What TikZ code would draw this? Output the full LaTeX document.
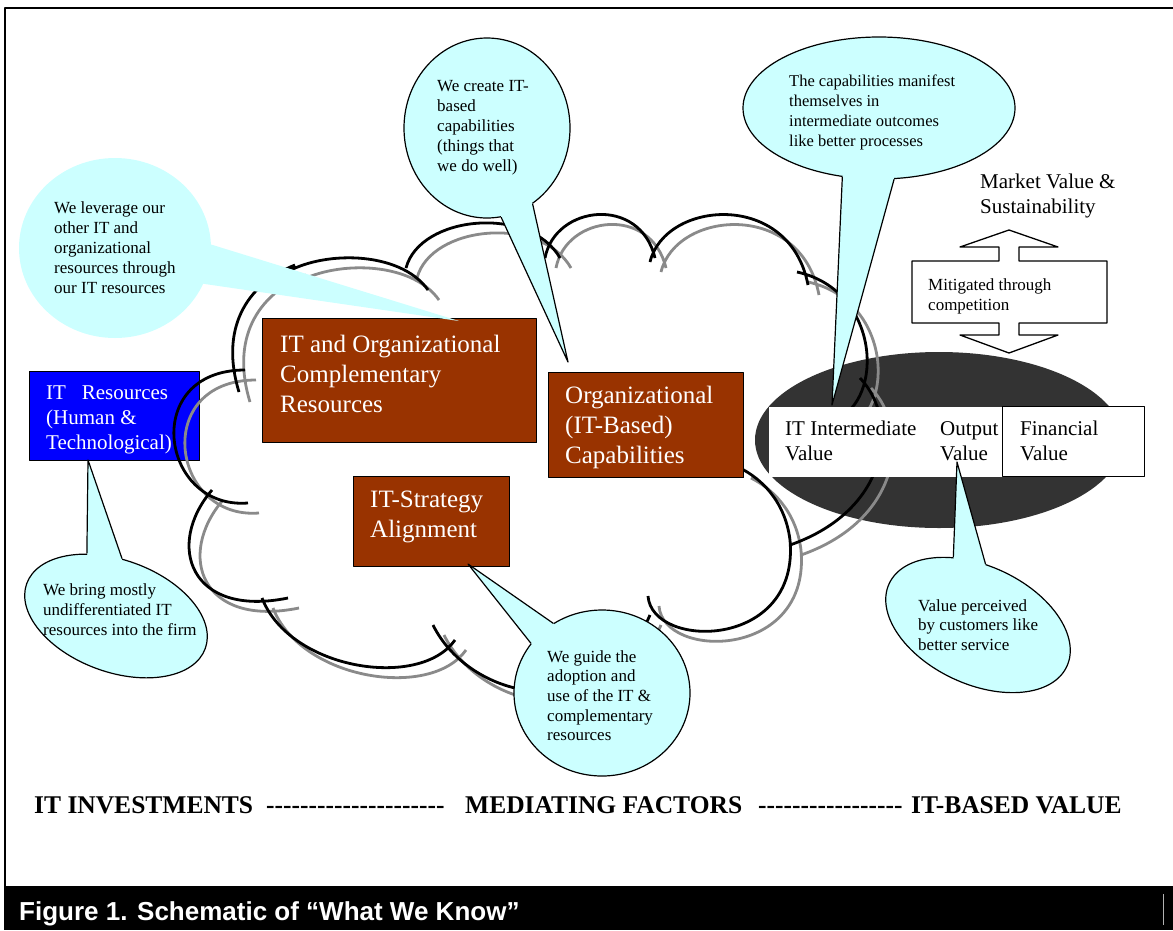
\documentclass[tikz,border=0pt]{standalone}
\usepackage{fontspec}
\setmainfont{Liberation Serif}
\newfontfamily\capfont{Liberation Sans}
\usetikzlibrary{shapes.geometric}
\definecolor{cBrown}{HTML}{993300}
\definecolor{cBlue}{HTML}{0000FF}
\definecolor{cCyan}{HTML}{CCFFFF}
\definecolor{cEll}{HTML}{333333}
\definecolor{cShadow}{HTML}{8A8A8A}
\newcommand\hy{\mbox{-}}
\newcommand\hyrun[1]{\foreach \k in {1,...,#1}{\hy}}
\begin{document}
\begin{tikzpicture}[x=1pt,y=-1pt,line join=round,
  frameln/.style={line width=2.4pt,black},
  cloudline/.style={line width=2.8pt},
  bluebox/.style={draw=black,line width=1pt,fill=cBlue,inner sep=0pt,anchor=north west},
  brownbox/.style={draw=black,line width=1.3pt,fill=cBrown,inner sep=0pt,anchor=north west},
  wbox/.style={fill=white,inner sep=0pt,anchor=north west},
  finbox/.style={draw=black,line width=1.3pt,fill=white,inner sep=0pt,anchor=north west},
  bigtxt/.style={anchor=north west,inner sep=0pt,align=left,text=white,font=\fontsize{25}{30}\selectfont},
  midtxt/.style={anchor=north west,inner sep=0pt,align=left,font=\fontsize{21}{25}\selectfont},
  smalltxt/.style={anchor=north west,inner sep=0pt,align=left,font=\fontsize{17}{20}\selectfont},
  bubble/.style={ellipse,fill=cCyan,draw=black,line width=1.2pt,inner sep=0pt},
  ptr/.style={draw=black,line width=1.2pt},
  axislbl/.style={anchor=base west,inner sep=0pt,font=\fontsize{25.5}{30}\selectfont\bfseries},
  cloudp/.style={insert path={
    (248,503) .. controls (160,510) and (140,370) .. (245,370)
    (239,392) .. controls (220,330) and (245,285) .. (295,265)
    (282,275) .. controls (320,250) and (400,250) .. (428,290)
    (406,268) .. controls (420,215) and (530,205) .. (560,258)
    (545,258) .. controls (555,205) and (640,195) .. (655,258)
    (650,262) .. controls (665,200) and (790,190) .. (808,285)
    (797,272) .. controls (880,290) and (885,400) .. (835,420)
    (860,378) .. controls (900,420) and (890,510) .. (790,545)
    (648,596) .. controls (652,650) and (800,650) .. (790,540)
              .. controls (785,500) and (760,478) .. (740,468)
    (433,625) .. controls (470,700) and (600,730) .. (650,615)
    (262,598) .. controls (290,670) and (420,690) .. (455,640)
    (212,490) .. controls (165,545) and (190,618) .. (288,598)
  }}]
\useasboundingbox (0,0) rectangle (1173,930);
% frame and caption bar
\draw[frameln] (5,887) -- (5,8) -- (1173,8);
\fill[black] (4,886) rectangle (1173,930);
\draw[gray!60,line width=0.8pt] (1163,894) -- (1163,925);
\node[anchor=base west,inner sep=0pt,text=white,font=\capfont\bfseries\fontsize{26}{30}\selectfont] (cap) at (19,920) {Figure 1. Schematic of “What We Know”};

% IT resources box
\node[bluebox,minimum width=170pt,minimum height=89pt] (blue) at (29,371) {};
\node[midtxt,text=white] (bluet) at (46,386) {IT\ \ \ Resources\\(Human \&\\Technological)};

% dark ellipse
\node[ellipse,fill=cEll,minimum width=368pt,minimum height=176pt,inner sep=0pt] (ell) at (939,440) {};

% cloud
\begin{scope}[shift={(11,10)}]
\draw[cloudline,cShadow] [cloudp];
\end{scope}
\draw[cloudline,black] [cloudp];

% brown boxes
\node[brownbox,minimum width=274pt,minimum height=124pt] (box1) at (262,318) {};
\node[bigtxt] (box1t) at (280,335) {IT and Organizational\\Complementary\\Resources};
\node[brownbox,minimum width=195pt,minimum height=105pt] (box2) at (548,372) {};
\node[bigtxt] (box2t) at (565,386) {Organizational\\(IT-Based)\\Capabilities};
\node[brownbox,minimum width=156pt,minimum height=90pt] (box3) at (353,476) {};
\node[bigtxt] (box3t) at (370,491) {IT-Strategy\\Alignment};

% value boxes
\node[wbox,minimum width=259pt,minimum height=70pt] (ivbox) at (769,407) {};
\node[finbox,minimum width=142pt,minimum height=70pt] (fin) at (1002,406) {};
\node[midtxt] (ivt) at (785,421) {IT Intermediate\\Value};
\node[midtxt] (outt) at (940,421) {Output\\Value};
\node[midtxt] (fint) at (1020,421) {Financial\\Value};

% market value and double arrow
\node[midtxt] (mkt) at (980,174) {Market Value \&\\Sustainability};
\draw[line width=1.3pt,fill=white] (1009,230) -- (1058,247) -- (1019,247) -- (1019,261) -- (1107,261) -- (1107,323) -- (1019,323) -- (1019,335) -- (1058,335) -- (1009,353) -- (960,335) -- (999,335) -- (999,323) -- (912,323) -- (912,261) -- (999,261) -- (999,247) -- (960,247) -- cycle;
\node[smalltxt] (mitt) at (928,278) {Mitigated through\\competition};

% axis labels
\node[axislbl] (ax1) at (34,813) {IT INVESTMENTS};
\node[axislbl] (ax1d) at (266,813) {\hyrun{21}};
\node[axislbl] (ax2) at (465,813) {MEDIATING FACTORS};
\node[axislbl] (ax2d) at (758,813) {\hyrun{17}};
\node[axislbl] (ax3) at (911,813) {IT-BASED VALUE};

% callout tips
\coordinate (tip1) at (459,321);
\coordinate (tip2) at (568,362);
\coordinate (tip3) at (832,405);
\coordinate (tip4) at (88,460);
\coordinate (tip5) at (468,564);
\coordinate (tip6) at (957,462);

% bubble 1 (no outline)
\node[bubble,draw=none,minimum width=192pt,minimum height=180pt] (bub1) at (115,248) {};
\fill[cCyan] (bub1.2) -- (tip1) -- (bub1.-22) -- (bub1.center) -- cycle;
\node[smalltxt] (t1) at (54,201) {We leverage our\\other IT and\\organizational\\resources through\\our IT resources};

% bubble 2
\node[bubble,minimum width=166pt,minimum height=180pt] (bub2) at (487,128) {};
\fill[cCyan] (bub2.-59) -- (tip2) -- (bub2.-81) -- (bub2.center) -- cycle;
\draw[ptr] (bub2.-59) -- (tip2) -- (bub2.-81);
\node[smalltxt] (t2) at (437,80) {We create IT-\\based\\capabilities\\(things that\\we do well)};

% bubble 3
\node[bubble,minimum width=272pt,minimum height=142pt] (bub3) at (879,108) {};
\fill[cCyan] (bub3.-118) -- (tip3) -- (bub3.-78) -- (bub3.center) -- cycle;
\draw[ptr] (bub3.-118) -- (tip3) -- (bub3.-78);
\node[smalltxt,font=\fontsize{16.5}{20}\selectfont] (t3) at (789,74.5) {The capabilities manifest\\themselves in\\intermediate outcomes\\like better processes};

% bubble 4
\node[bubble,minimum width=190pt,minimum height=112pt,rotate=-20] (bub4) at (116,616) {};
\fill[cCyan] (bub4.135) -- (tip4) -- (bub4.104) -- (bub4.center) -- cycle;
\draw[ptr] (bub4.135) -- (tip4) -- (bub4.104);
\node[smalltxt] (t4) at (43,583) {We bring mostly\\undifferentiated IT\\resources into the firm};

% bubble 5
\node[bubble,minimum width=176pt,minimum height=166pt] (bub5) at (602,693) {};
\fill[cCyan] (bub5.125) -- (tip5) -- (bub5.145) -- (bub5.center) -- cycle;
\draw[ptr] (bub5.125) -- (tip5) -- (bub5.145);
\node[smalltxt,font=\fontsize{17}{19.7}\selectfont] (t5) at (547,650) {We guide the\\adoption and\\use of the IT \&\\complementary\\resources};

% bubble 6
\node[bubble,minimum width=196pt,minimum height=118pt,rotate=-25] (bub6) at (978,625) {};
\fill[cCyan] (bub6.135) -- (tip6) -- (bub6.108) -- (bub6.center) -- cycle;
\draw[ptr] (bub6.135) -- (tip6) -- (bub6.108);
\node[smalltxt,font=\fontsize{17}{19.5}\selectfont] (t6) at (918,599) {Value perceived\\by customers like\\better service};
\end{tikzpicture}
\end{document}
